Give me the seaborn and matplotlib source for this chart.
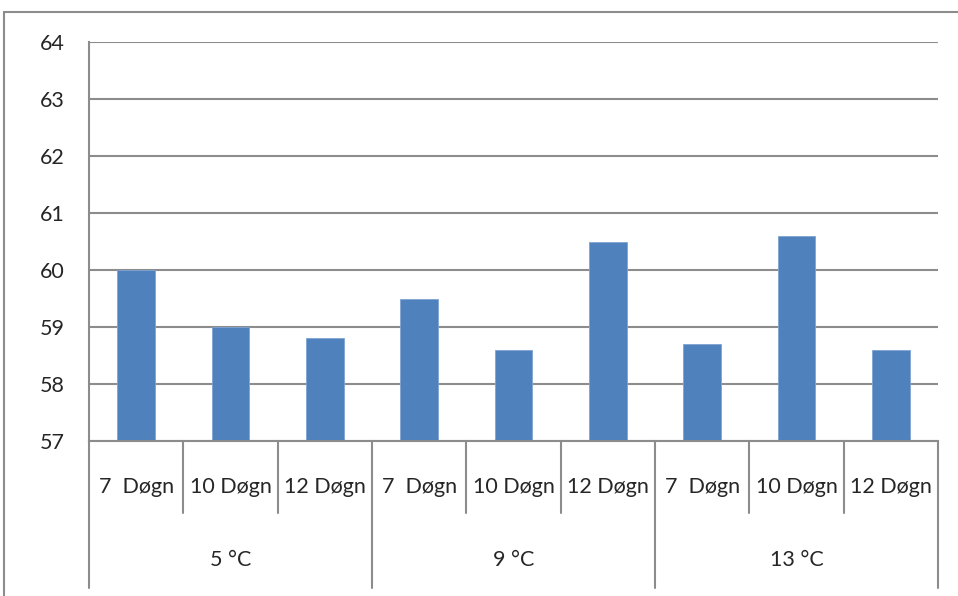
import pandas as pd
import matplotlib.pyplot as plt
import seaborn as sns
from matplotlib.lines import Line2D

temps = ["5 °C", "9 °C", "13 °C"]
days = ["7  Døgn", "10 Døgn", "12 Døgn"]
values = [60.0, 59.0, 58.8,
          59.5, 58.6, 60.5,
          58.7, 60.6, 58.6]
yticks = [57, 58, 59, 60, 61, 62, 63, 64]

rows = []
for i, t in enumerate(temps):
    for j, d in enumerate(days):
        rows.append({"temp": t, "days": d, "label": t + " / " + d, "value": values[i * 3 + j]})
df = pd.DataFrame(rows)

sns.set_style("white")
plt.rcParams['font.family'] = ['Lato', 'DejaVu Sans']

fig = plt.figure(figsize=(9.58, 5.96), dpi=100)
ax = fig.add_axes([0.0929, 0.260, 0.8862, 0.6695])

sns.barplot(data=df, x="label", y="value", color="#4F81BD", saturation=1, width=0.40,
            edgecolor="#7ea3d2", linewidth=0.6, ax=ax)

ax.set_ylim(57, 64)
ax.set_yticks(yticks)
ax.set_xlim(-0.5, len(df) - 0.5)
ax.set_xlabel("")
ax.set_ylabel("")
ax.yaxis.grid(True, color="#8c8c8c", linewidth=1.5)
ax.set_axisbelow(True)
for s in ["top", "right"]:
    ax.spines[s].set_visible(False)
for s in ["left", "bottom"]:
    ax.spines[s].set_color("#8c8c8c")
    ax.spines[s].set_linewidth(1.5)
ax.tick_params(axis="y", length=4.3, width=1.5, color="#8c8c8c", pad=13, labelsize=15.5)
ax.tick_params(axis="x", length=0, labelbottom=False)

# two-level category labels under the axis
tr = ax.get_xaxis_transform()
n = len(df)
for k in range(n + 1):
    low = -0.368 if k % 3 == 0 else -0.180
    ax.plot([k - 0.5, k - 0.5], [0, low], transform=tr, color="#8c8c8c",
            linewidth=1.5, clip_on=False)
for k, row in df.iterrows():
    ax.text(k, -0.115, row["days"], transform=tr, ha="center", va="center", fontsize=15.5)
for i, t in enumerate(temps):
    ax.text(i * 3 + 1, -0.298, t, transform=tr, ha="center", va="center", fontsize=15.5)

# chart frame (cropped on the right and bottom)
fig.add_artist(Line2D([0.0042, 0.0042], [0, 0.9799], color="#8c8c8c", linewidth=1.5))
fig.add_artist(Line2D([0.0042, 1.0], [0.9799, 0.9799], color="#8c8c8c", linewidth=1.5))

plt.savefig("out.png", dpi=100)
